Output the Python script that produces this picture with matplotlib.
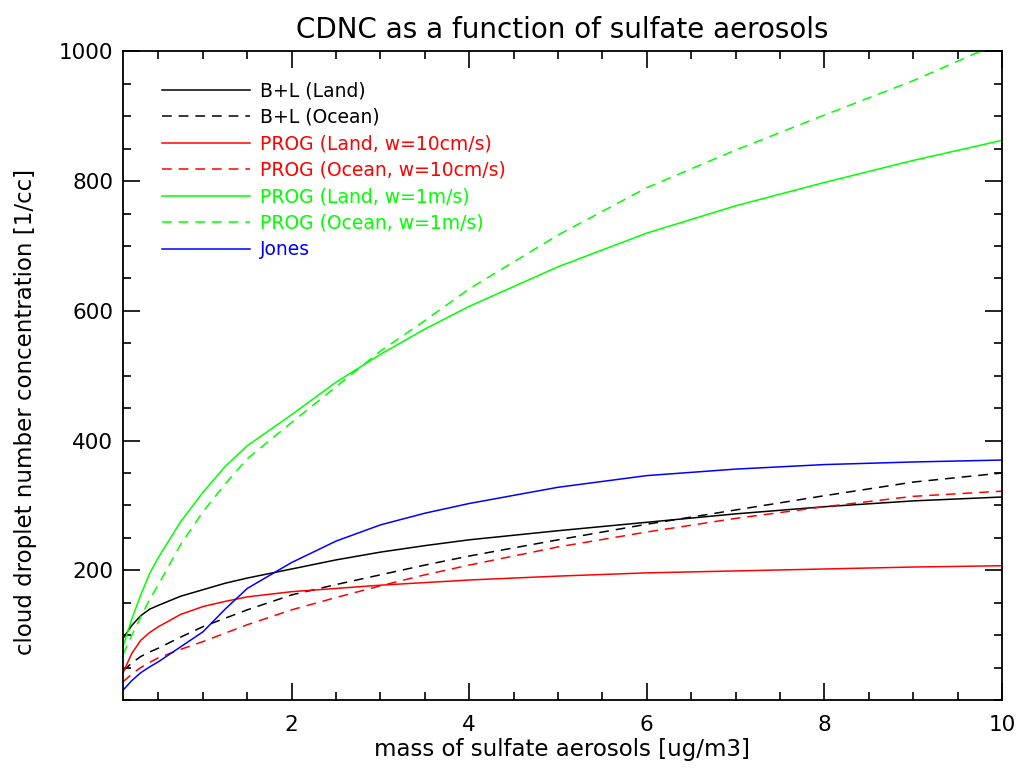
import matplotlib
matplotlib.use("Agg")
import matplotlib.pyplot as plt
from matplotlib.ticker import MultipleLocator

plt.rcParams['font.family'] = ['DejaVu Sans']
plt.rcParams['lines.scale_dashes'] = False

# sulfate mass [ug/m3]
mass = [0.1, 0.2, 0.3, 0.4, 0.5, 0.75, 1.0, 1.25, 1.5, 2.0, 2.5, 3.0,
        3.5, 4.0, 5.0, 6.0, 7.0, 8.0, 9.0, 10.0]

# CDNC [1/cc]
bl_land = [95, 115, 130, 140, 146, 160, 170, 180, 188, 202, 216, 228,
           238, 247, 261, 274, 287, 298, 307, 313]
bl_ocean = [45, 57, 67, 74, 80, 97, 113, 126, 139, 162, 178, 193,
            208, 222, 247, 271, 293, 315, 336, 350]
prog_land_10cm = [42, 72, 92, 104, 113, 132, 144, 152, 159, 167, 172, 177,
                  181, 185, 191, 196, 199, 202, 205, 207]
prog_ocean_10cm = [28, 40, 50, 58, 65, 78, 90, 103, 116, 139, 158, 176,
                   193, 208, 236, 259, 280, 298, 314, 322]
prog_land_1m = [82, 125, 162, 195, 220, 275, 320, 360, 392, 440, 490, 533,
                572, 607, 668, 720, 762, 798, 832, 863]
prog_ocean_1m = [70, 100, 128, 155, 178, 240, 290, 333, 372, 428, 483, 538,
                 585, 634, 717, 790, 848, 902, 955, 1015]
jones = [15, 30, 42, 51, 59, 82, 105, 140, 172, 212, 245, 270,
         288, 303, 328, 346, 356, 363, 367, 370]

series = [
    ("B+L (Land)", bl_land, "black", "-"),
    ("B+L (Ocean)", bl_ocean, "black", "--"),
    ("PROG (Land, w=10cm/s)", prog_land_10cm, "#ff0000", "-"),
    ("PROG (Ocean, w=10cm/s)", prog_ocean_10cm, "#ff0000", "--"),
    ("PROG (Land, w=1m/s)", prog_land_1m, "#00ff00", "-"),
    ("PROG (Ocean, w=1m/s)", prog_ocean_1m, "#00ff00", "--"),
    ("Jones", jones, "#0000ff", "-"),
]

fig = plt.figure(figsize=(10.18, 7.72), dpi=100)
ax = fig.add_axes([0.1208, 0.0933, 0.8635, 0.84])

for label, vals, col, ls in series:
    if ls == "--":
        ax.plot(mass, vals, color=col, lw=1.1, dashes=(7, 5), label=label)
    else:
        ax.plot(mass, vals, color=col, lw=1.1, label=label)

ax.set_xlim(0.1, 10)
ax.set_ylim(0, 1000)
ax.set_xticks([2, 4, 6, 8, 10])
ax.set_yticks([200, 400, 600, 800, 1000])
ax.xaxis.set_minor_locator(MultipleLocator(0.5))
ax.yaxis.set_minor_locator(MultipleLocator(50))
ax.tick_params(which='both', direction='in', top=True, right=True,
               width=1.2, labelsize=15.5)
ax.tick_params(which='major', length=12)
ax.tick_params(which='minor', length=6)
ax.tick_params(axis='x', pad=11)
ax.tick_params(axis='y', pad=7)
for s in ax.spines.values():
    s.set_linewidth(1.3)

ax.set_title("CDNC as a function of sulfate aerosols", fontsize=20, pad=10)
ax.set_xlabel("mass of sulfate aerosols [ug/m3]", fontsize=16.5, labelpad=2)
ax.set_ylabel("cloud droplet number concentration [1/cc]", fontsize=16.5)
ax.yaxis.set_label_coords(-0.098, 0.444)

ax.legend(loc='upper left', bbox_to_anchor=(0.025, 0.98), frameon=False,
          fontsize=13.5, handlelength=4.7, handletextpad=0.55,
          labelspacing=0.4, labelcolor='linecolor')

fig.savefig("out.png", dpi=100)
